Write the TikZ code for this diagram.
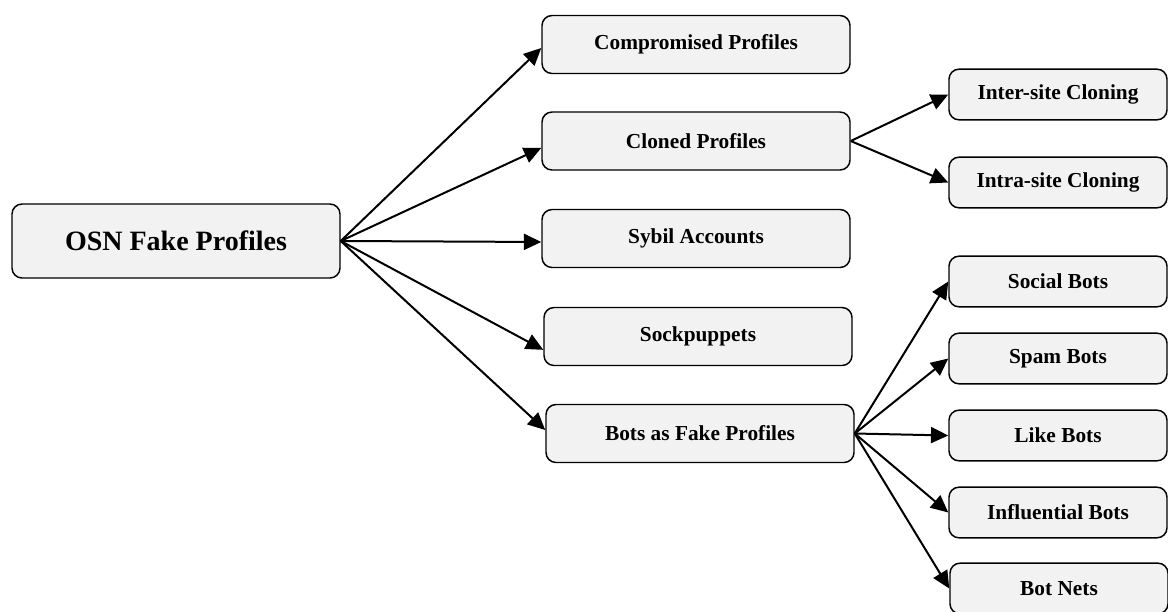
\documentclass[tikz,border=0pt]{standalone}
\usepackage{fontspec}
\setmainfont{Liberation Serif}
\usetikzlibrary{arrows.meta}

\tikzset{
  catbox/.style={draw=black, line width=1.1pt, rounded corners=7.5pt, fill=gray!10,
    font=\bfseries\fontsize{16}{19}\selectfont, minimum width=231pt, minimum height=43.5pt, inner sep=0pt},
  subbox/.style={catbox, minimum width=163.5pt, minimum height=38pt},
  rootbox/.style={catbox, minimum width=246pt, minimum height=55.5pt, font=\bfseries\fontsize{21}{25}\selectfont},
  link/.style={-{Triangle[length=13pt,width=12pt]}, line width=1.5pt}
}

\begin{document}
\begin{tikzpicture}[x=0.75pt, y=-0.75pt]

% Page frame
\useasboundingbox (0,0) rectangle (1168,611);

% Root
\node[rootbox] (osn) at (176,241) {OSN Fake Profiles};

% Main categories
\node[catbox] (comp)  at (696,44.5)  {Compromised Profiles};
\node[catbox] (clon)  at (696,141)   {Cloned Profiles};
\node[catbox] (sybil) at (696,238.5) {Sybil Accounts};
\node[catbox] (sock)  at (698,336.5) {Sockpuppets};
\node[catbox] (bots)  at (700,433.5) {Bots as Fake Profiles};

% arrows hit the boxes a little off centre
\foreach \c/\dy in {comp/-2.6,clon/-5.2,sybil/-2.6,sock/-10,bots/2.6} {
  \draw[link] (osn.east) -- ([yshift=\dy pt]\c.west);
}

% Cloning types
\node[subbox] (inter) at (1058,94.5)  {Inter-site Cloning};
\node[subbox] (intra) at (1058,182.5) {Intra-site Cloning};
\draw[link] (clon.east) -- (inter.west);
\draw[link] (clon.east) -- (intra.west);

% Bot types
\node[subbox] (social) at (1058,281.5) {Social Bots};
\node[subbox] (spam)   at (1058,358.5) {Spam Bots};
\node[subbox] (like)   at (1058,435.5) {Like Bots};
\node[subbox] (infl)   at (1058,512.5) {Influential Bots};
\node[subbox] (botnet) at (1059,588.5) {Bot Nets};

\foreach \b in {social,spam,like,infl,botnet} {
  \draw[link] (bots.east) -- (\b.west);
}

\end{tikzpicture}
\end{document}
